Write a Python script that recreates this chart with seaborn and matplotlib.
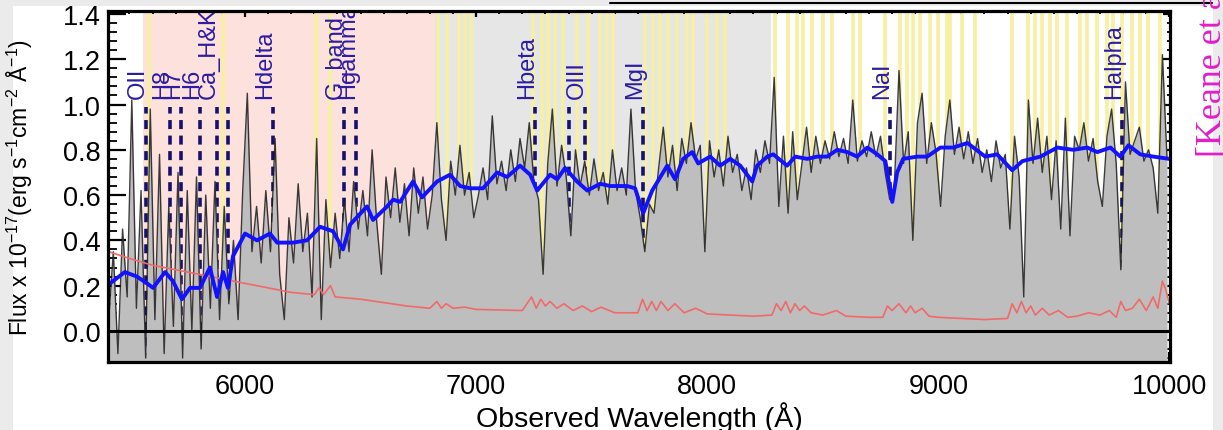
import numpy as np
import matplotlib
matplotlib.use('Agg')
import matplotlib.pyplot as plt
import seaborn as sns
from matplotlib.ticker import MultipleLocator
from matplotlib.patches import Rectangle
from matplotlib.lines import Line2D

sns.set_style('ticks')
plt.rcParams['font.family'] = ['Liberation Sans', 'DejaVu Sans']
plt.rcParams['mathtext.fontset'] = 'custom'
plt.rcParams['mathtext.rm'] = 'Liberation Sans'
plt.rcParams['mathtext.it'] = 'Liberation Sans:italic'
plt.rcParams['text.color'] = 'black'
plt.rcParams['axes.labelcolor'] = 'black'
plt.rcParams['xtick.color'] = 'black'
plt.rcParams['ytick.color'] = 'black'

# observed spectrum, sampled every 20 A
wave = np.arange(5410, 10000, 20)
flux = [
    0.05, 0.35, -0.10, 0.45, 0.15, 1.02, 0.10, 0.62, -0.12, 0.98,
    0.05, 0.78, -0.10, 0.55, 0.02, 0.70, -0.12, 0.62, 0.00, 0.68,
    -0.08, 0.60, 0.10, 0.66, 0.05, 0.55, 0.12, 0.40, 0.05, 0.62,
    1.05, 0.35, 0.55, 0.30, 0.62, 0.35, 0.85, 0.25, 0.05, 0.50,
    0.30, 0.65, 0.35, 0.52, 0.15, 0.85, 0.05, 0.58, 0.28, 0.52,
    0.32, 0.58, 0.35, 0.66, 0.45, 0.62, 0.42, 0.80, 0.48, 0.25,
    0.68, 0.50, 0.72, 0.48, 0.65, 0.42, 0.72, 0.52, 0.68, 0.45,
    0.60, 0.92, 0.58, 0.40, 0.75, 0.60, 0.82, 0.60, 0.70, 0.50,
    0.60, 0.72, 0.58, 0.95, 0.65, 0.75, 0.62, 0.80, 0.66, 0.85,
    0.72, 0.92, 0.66, 0.58, 0.25, 0.74, 0.98, 0.64, 0.82, 0.68,
    0.42, 0.80, 0.64, 0.75, 0.60, 0.76, 0.62, 0.70, 0.56, 0.80,
    0.62, 0.72, 0.60, 0.98, 0.62, 0.50, 0.35, 0.56, 0.52, 0.72,
    0.90, 0.68, 0.82, 0.62, 0.85, 0.74, 0.92, 0.76, 0.82, 0.35,
    0.84, 0.68, 0.80, 0.64, 0.86, 0.70, 0.78, 0.62, 0.72, 0.58,
    0.80, 0.70, 0.84, 0.74, 1.12, 0.55, 0.86, 0.52, 0.88, 0.58,
    0.74, 0.90, 0.70, 0.86, 0.74, 0.84, 0.76, 0.88, 0.77, 0.85,
    0.74, 1.02, 0.75, 0.84, 0.77, 0.88, 0.77, 0.86, 0.70, 0.58,
    0.64, 1.15, 0.74, 0.88, 0.40, 0.92, 1.05, 0.74, 0.92, 0.79,
    0.55, 0.86, 1.02, 0.78, 0.90, 0.76, 0.88, 0.74, 0.85, 0.70,
    0.80, 0.66, 0.84, 0.72, 0.78, 0.45, 0.86, 0.68, 0.15, 1.02,
    0.74, 0.94, 0.70, 0.86, 0.58, 0.84, 0.45, 0.94, 0.42, 0.86,
    0.80, 0.92, 0.75, 0.85, 0.66, 0.55, 0.86, 0.98, 0.74, 0.27,
    1.10, 0.78, 0.84, 0.90, 0.75, 0.80, 0.72, 0.52, 1.22, 0.76,
]

# best fit template (blue)
model_wave = [5416, 5480, 5532, 5576, 5602, 5654, 5688, 5727, 5762, 5805,
              5848, 5879, 5905, 5926, 5948, 6000, 6052, 6108, 6139, 6208,
              6268, 6325, 6381, 6424, 6455, 6528, 6554, 6615, 6641, 6671,
              6727, 6766, 6831, 6887, 6931, 6974, 7030, 7091, 7134, 7190,
              7234, 7264, 7320, 7351, 7385, 7437, 7481, 7537, 7580, 7654,
              7688, 7723, 7762, 7827, 7861, 7896, 7935, 7961, 8013, 8056,
              8100, 8143, 8195, 8216, 8260, 8286, 8346, 8381, 8433, 8476,
              8519, 8563, 8606, 8649, 8693, 8736, 8771, 8801, 8822, 8848,
              8909, 8952, 9009, 9065, 9126, 9152, 9203, 9255, 9320, 9364,
              9442, 9515, 9584, 9645, 9688, 9745, 9788, 9823, 9874, 9931,
              10000]
model_flux = [0.21, 0.26, 0.24, 0.21, 0.19, 0.26, 0.22, 0.14, 0.19, 0.19,
              0.28, 0.15, 0.26, 0.19, 0.33, 0.43, 0.40, 0.43, 0.39, 0.39,
              0.40, 0.46, 0.44, 0.36, 0.47, 0.55, 0.49, 0.55, 0.58, 0.57,
              0.66, 0.59, 0.66, 0.69, 0.64, 0.63, 0.63, 0.70, 0.68, 0.73,
              0.69, 0.62, 0.69, 0.67, 0.72, 0.66, 0.62, 0.65, 0.64, 0.64,
              0.63, 0.52, 0.62, 0.73, 0.67, 0.76, 0.79, 0.74, 0.77, 0.73,
              0.76, 0.73, 0.66, 0.73, 0.77, 0.78, 0.73, 0.77, 0.76, 0.77,
              0.77, 0.80, 0.79, 0.77, 0.81, 0.78, 0.75, 0.57, 0.70, 0.76,
              0.77, 0.77, 0.81, 0.81, 0.83, 0.81, 0.77, 0.78, 0.71, 0.75,
              0.77, 0.81, 0.80, 0.81, 0.79, 0.81, 0.77, 0.82, 0.78, 0.77,
              0.76]

# error spectrum (red)
err_wave = [5410, 5500, 5600, 5700, 5800, 5900, 6000, 6100, 6200, 6300,
            6320, 6340, 6370, 6390, 6500, 6600, 6700, 6800, 6830, 6850,
            6870, 6900, 6950, 7000, 7200, 7240, 7260, 7280, 7300, 7320,
            7350, 7380, 7420, 7460, 7500, 7540, 7600, 7700, 7720, 7740,
            7760, 7780, 7800, 7830, 7860, 7900, 7950, 8000, 8100, 8200,
            8280, 8300, 8320, 8340, 8360, 8380, 8400, 8420, 8450, 8500,
            8560, 8600, 8700, 8760, 8780, 8800, 8830, 8860, 8880, 8900,
            8930, 8960, 9000, 9100, 9200, 9300, 9320, 9340, 9360, 9380,
            9400, 9420, 9450, 9480, 9520, 9560, 9600, 9650, 9700, 9740,
            9770, 9790, 9810, 9840, 9870, 9900, 9930, 9950, 9970, 9985,
            10000]
err_flux = [0.35, 0.32, 0.29, 0.27, 0.25, 0.23, 0.21, 0.19, 0.17, 0.16,
            0.19, 0.16, 0.20, 0.15, 0.14, 0.125, 0.11, 0.10, 0.13, 0.10,
            0.12, 0.10, 0.105, 0.095, 0.09, 0.15, 0.10, 0.14, 0.11, 0.13,
            0.10, 0.12, 0.09, 0.11, 0.085, 0.105, 0.08, 0.08, 0.14, 0.09,
            0.13, 0.09, 0.13, 0.09, 0.12, 0.08, 0.10, 0.075, 0.07, 0.065,
            0.07, 0.12, 0.09, 0.13, 0.08, 0.12, 0.09, 0.11, 0.08, 0.07,
            0.09, 0.065, 0.06, 0.06, 0.11, 0.09, 0.12, 0.08, 0.11, 0.08,
            0.10, 0.065, 0.06, 0.055, 0.05, 0.055, 0.12, 0.08, 0.13, 0.08,
            0.11, 0.07, 0.10, 0.07, 0.09, 0.06, 0.065, 0.08, 0.07, 0.09,
            0.06, 0.13, 0.09, 0.10, 0.14, 0.09, 0.15, 0.10, 0.22, 0.18,
            0.12]

# sky lines (yellow)
sky_lines = [5584, 5905, 6307, 6368, 6835, 6874, 6926, 6952, 6978,
             7247, 7286, 7312, 7342, 7377, 7437, 7485, 7537, 7567, 7593,
             7732, 7766, 7797, 7831, 7870, 7913, 7939, 8000, 8043, 8078,
             8294, 8351, 8390, 8416, 8455, 8502, 8541, 8632, 8662,
             8771, 8835, 8866, 8892, 8922, 8965, 9000, 9039,
             9052, 9104, 9160, 9320, 9390, 9420, 9450, 9485, 9515, 9558,
             9615, 9645, 9688, 9732, 9758, 9797, 9840, 9874, 9909, 9961]

# spectral features
line_names = ['OII', 'H8', 'H7', 'H6', 'Ca_H&K', '', 'Hdelta', 'G_band',
              'Hgamma', 'Hbeta', '', 'OIII', 'MgI', 'NaI', 'Halpha']
line_waves = [5571, 5675, 5723, 5805, 5879, 5926, 6121, 6429,
              6481, 7255, 7403, 7472, 7723, 8792, 9797]

fig = plt.figure(figsize=(12.23, 4.31), dpi=100, facecolor='#ebebeb')
fig.patches.append(Rectangle((13 / 1223, 0), 1200 / 1223, 424 / 431,
                             transform=fig.transFigure, facecolor='white',
                             edgecolor='none', zorder=-5))
fig.lines.append(Line2D([610 / 1223, 1212 / 1223], [1 - 4 / 431, 1 - 4 / 431],
                        transform=fig.transFigure, color='black', lw=1.5))

ax = fig.add_axes([0.0883, 0.158, 0.8684, 0.814])
ax.set_facecolor('white')
ymin, ymax = -0.137, 1.413

ax.axvspan(5558, 6823, color='#fde1dd', lw=0, zorder=0)
ax.axvspan(6823, 8275, color='#e6e6e6', lw=0, zorder=0)
for s in sky_lines:
    ax.axvline(s, color='#f6f0a0', lw=2.6, zorder=1)

for name, lw_ in zip(line_names, line_waves):
    ax.plot([lw_, lw_], [ymin, 0.99], color='#16106e', lw=2.6,
            ls=(0, (2.5, 1.8)), zorder=2)
    if name:
        ax.text(lw_ - 35, 1.03, name, rotation=90, ha='center', va='bottom',
                color='#2c1ca0', fontsize=17, clip_on=True, zorder=2)

ax.fill_between(wave, ymin, flux, color='#bebebe', lw=0, zorder=3)
sns.lineplot(x=wave, y=flux, ax=ax, color='#1c1c1c', lw=1.0, alpha=0.85, zorder=4)
sns.lineplot(x=err_wave, y=err_flux, ax=ax, color='#f06a6a', lw=1.2, zorder=5)
sns.lineplot(x=model_wave, y=model_flux, ax=ax, color='#1212ff', lw=2.8, zorder=6)
ax.axhline(0, color='black', lw=2.2, zorder=7)

ax.set_xlim(5407, 10003)
ax.set_ylim(ymin, ymax)
ax.set_xticks([6000, 7000, 8000, 9000, 10000])
ax.xaxis.set_minor_locator(MultipleLocator(100))
ax.set_yticks(np.arange(0, 1.41, 0.2))
ax.yaxis.set_minor_locator(MultipleLocator(0.04))
ax.set_yticklabels(['%.1f' % v for v in np.arange(0, 1.41, 0.2)])

ax.tick_params(axis='x', which='major', direction='in', length=7, width=1.6,
               labelsize=19.5, pad=8)
ax.tick_params(axis='x', which='minor', direction='in', length=3.5, width=1.3)
ax.tick_params(axis='y', which='major', direction='in', length=13, width=1.6,
               labelsize=19.5, pad=5)
ax.tick_params(axis='y', which='minor', direction='in', length=6.5, width=1.3)
for sp in ax.spines.values():
    sp.set_linewidth(2.3)
    sp.set_color('black')
    sp.set_zorder(8)

top = ax.secondary_xaxis('top')
top.set_xticks([6000, 7000, 8000, 9000, 10000])
top.xaxis.set_minor_locator(MultipleLocator(100))
top.tick_params(which='major', direction='in', length=4, width=1.6, labeltop=False)
top.tick_params(which='minor', direction='in', length=2.5, width=1.3)
right = ax.secondary_yaxis('right')
right.set_yticks(np.arange(0, 1.41, 0.2))
right.yaxis.set_minor_locator(MultipleLocator(0.04))
right.tick_params(which='major', direction='in', length=5, width=1.6, labelright=False)
right.tick_params(which='minor', direction='in', length=2.5, width=1.3)

ax.set_xlabel('Observed Wavelength (Å)', fontsize=20.5)
ax.xaxis.set_label_coords(0.5, -0.112)
ax.set_ylabel('Flux x 10$^{-17}$(erg s$^{-1}$cm$^{-2}$ Å$^{-1}$)', fontsize=16.5)
ax.yaxis.set_label_coords(-0.069, 0.5)

fig.text(1213 / 1223, 1 - 157 / 431, '[Keane et al. 2016]', rotation=90,
         ha='center', va='bottom', color='#e01ec8', fontsize=26,
         family='Liberation Serif')

fig.savefig('out.png', dpi=100, facecolor=fig.get_facecolor())
